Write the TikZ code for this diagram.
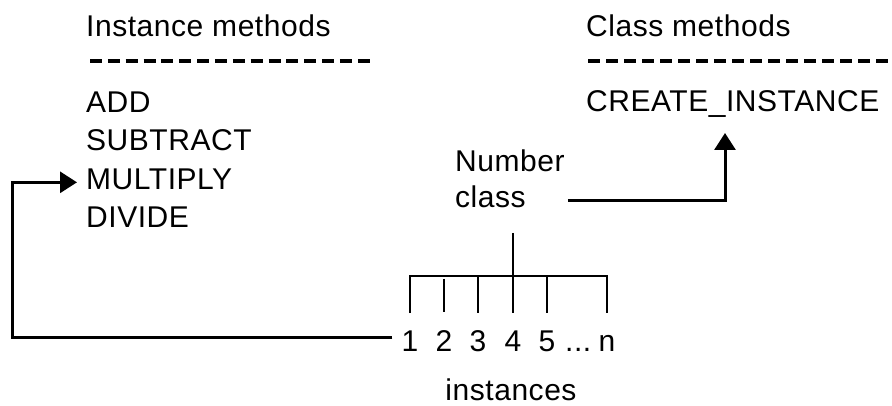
\documentclass[tikz,border=0pt]{standalone}
\usepackage{fontspec}
\setmainfont[LetterSpace=1.8]{Liberation Sans}
\usetikzlibrary{arrows.meta,calc}
\begin{document}
\begin{tikzpicture}[x=1pt,y=-1pt,
  txt/.style={inner sep=0pt, font=\fontsize{30}{36}\selectfont, anchor=base west},
  dig/.style={inner sep=0pt, font=\fontsize{30}{36}\selectfont, anchor=base},
  conn/.style={line width=3pt, -{Triangle[length=17pt,width=21pt]}},
  tree/.style={line width=1.6pt},
  rulei/.style={line width=4pt, dash pattern=on 12pt off 5.85pt},
  rulec/.style={line width=4pt, dash pattern=on 12pt off 6pt}]
\useasboundingbox (0,0) rectangle (892,406);
% left column
\node[txt] (ih) at (86,37) {Instance methods};
\draw[rulei] (90,61) -- (370,61);
\node[txt] (add) at (86,113) {ADD};
\node[txt] (sub) at (86,151) {SUBTRACT};
\node[txt] (mul) at (86,189.5) {MULTIPLY};
\node[txt] (div) at (86,228) {DIVIDE};
% right column
\node[txt] (ch) at (586,37) {Class methods};
\draw[rulec] (588,61) -- (888,61);
\node[txt] (ci) at (586,112) {CREATE\_INSTANCE};
% class
\node[txt] (num) at (455,172) {Number};
\node[txt] (cls) at (455,208) {class};
% instances
\node[dig] (n1) at (410,351) {1};
\node[dig] (n2) at (444,351) {2};
\node[dig] (n3) at (478,351) {3};
\node[dig] (n4) at (513,351) {4};
\node[dig] (n5) at (547,351) {5};
\node[txt] (dots) at (565,351) {...};
\node[dig] (nn) at (607,351) {n};
\node[dig] (inst) at (511,400) {instances};
% tree
\coordinate (rail) at (0,276);
\coordinate (tend) at (0,313);
\coordinate (ttop) at (0,233);
\draw[tree] (n1.north |- tend) -- (n1.north |- rail) -- (nn.north |- rail) -- (nn.north |- tend);
\draw[tree] (n2.north |- 0,279) -- (n2.north |- 0,312);
\draw[tree] (n3.north |- rail) -- (n3.north |- tend);
\draw[tree] (n5.north |- rail) -- (n5.north |- tend);
\draw[tree] (n4.north |- ttop) -- (n4.north |- tend);
% connectors
\draw[conn] ($(n1.west)+(-9,-3)$) -| ($(mul.west)+(-74,3)$) -- ($(mul.west)+(-9,3)$);
\draw[conn] ($(cls.east)+(42,3)$) -| ($(ci.base west)+(139,21)$);
\end{tikzpicture}
\end{document}
